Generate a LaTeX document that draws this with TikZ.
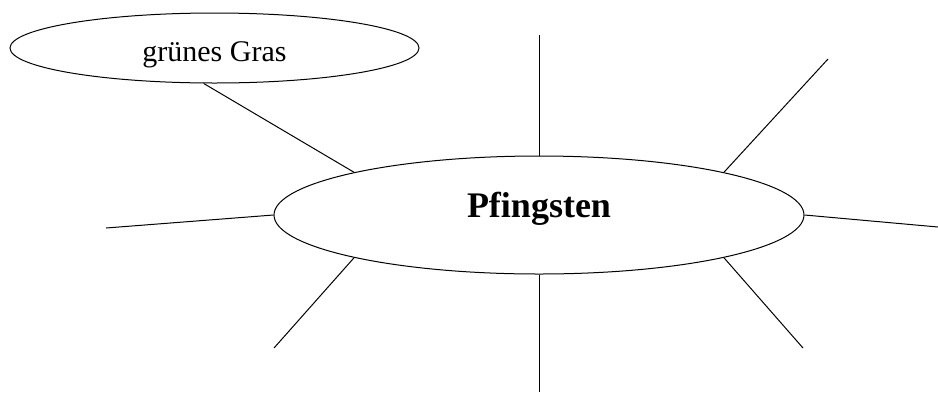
\documentclass[tikz,border=0pt]{standalone}
\usepackage{fontspec}
\setmainfont{Liberation Serif}
\usetikzlibrary{shapes.geometric}

\begin{document}
\begin{tikzpicture}[
  x=1pt, y=-1pt,
  oval/.style={draw, ellipse, line width=1pt, inner sep=0pt},
  ray/.style={line width=1pt}
]
\useasboundingbox (0,0) rectangle (938,392);

\node[oval, minimum width=530pt, minimum height=118pt, text height=20pt, text depth=16pt,
  font=\fontsize{36}{40}\selectfont\bfseries] (pf) at (539,215) {Pfingsten};
\node[oval, minimum width=409pt, minimum height=70pt, text height=27.5pt, text depth=0pt,
  font=\fontsize{30}{34}\selectfont] (gras) at (214.5,48) {grünes Gras};

% free ends of the rays
\coordinate (n) at (539,35);
\coordinate (ne) at (828,59);
\coordinate (e) at (938,227);
\coordinate (se) at (803,348);
\coordinate (s) at (539,392);
\coordinate (sw) at (274,348);
\coordinate (w) at (106,228);

\draw[ray] (pf.north) -- (n);
\draw[ray] (pf.13) -- (ne);
\draw[ray] (pf.east) -- (e);
\draw[ray] (pf.-13) -- (se);
\draw[ray] (pf.south) -- (s);
\draw[ray] (pf.193) -- (sw);
\draw[ray] (pf.west) -- (w);
\draw[ray] (gras.253) -- (pf.167);
\end{tikzpicture}
\end{document}
